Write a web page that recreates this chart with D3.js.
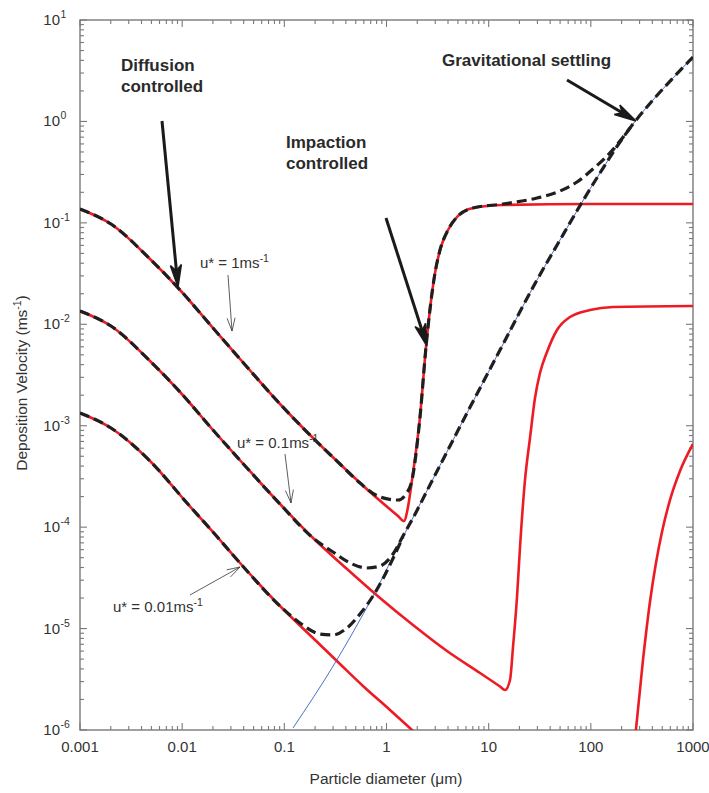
<!DOCTYPE html>
<html><head><meta charset="utf-8">
<script src="https://cdn.jsdelivr.net/npm/d3@7"></script>
<style>
body{margin:0;background:#fff}
svg{display:block}
text{font-family:"Liberation Sans",Arial,Helvetica,sans-serif;}
</style>
</head><body>
<svg id="c" width="709" height="793"></svg>
<script>
// ---- Data ----
const xTickLabels = ["0.001","0.01","0.1","1","10","100","1000"];
const xTickValues = [0.001,0.01,0.1,1,10,100,1000];
const yTickExps = ["1","0","-1","-2","-3","-4","-5","-6"];
const yTickValues = [10,1,0.1,0.01,0.001,1e-4,1e-5,1e-6];

// u* = 1 m/s : red solid and black dashed
const red1D = [0.001,0.00201,0.004843,0.009524,0.02003,0.04311,0.09071,0.1909,0.3507,0.6895,1.296,1.483,1.623,1.777,2.128,2.435,2.984,3.340,3.999,4.898,7.026,13.81,98.13,1000];
const red1V = [0.1370,0.09743,0.04402,0.02178,0.009192,0.003793,0.001637,0.0007566,0.0004194,0.0002220,0.0001288,0.0001150,0.0001579,0.0002916,0.001219,0.005972,0.03202,0.05399,0.08503,0.1142,0.1401,0.1500,0.1534,0.1534];
const dash1D = [0.001,0.00201,0.004843,0.009524,0.02003,0.04311,0.09071,0.1909,0.3507,0.5502,0.8637,1.296,1.552,1.777,2.128,2.435,2.984,3.340,3.999,4.898,7.026,13.81,29.72,49.91,73.21,105.0,143.9,193.0,258.6,406.1,637.2,1000];
const dash1V = [0.1370,0.09743,0.04402,0.02178,0.009192,0.003793,0.001637,0.0007566,0.0004194,0.0002724,0.0001982,0.0001851,0.0002121,0.0002916,0.001219,0.005972,0.03202,0.05399,0.08503,0.1142,0.1401,0.1534,0.1758,0.2061,0.2528,0.3396,0.4561,0.6412,0.9432,1.627,2.681,4.318];

// u* = 0.1 m/s
const red2D = [0.001,0.00201,0.004843,0.009524,0.02003,0.04311,0.09071,0.1909,0.4107,0.8637,1.817,3.910,8.227,12.91,14.45,16.18,17.31,18.94,20.27,22.68,25.38,28.41,31.79,37.24,46.65,62.54,98.13,164.8,1000];
const red2V = [0.01352,0.009618,0.004345,0.002150,0.0009073,0.0003829,0.0001691,7.816e-5,3.866e-5,2.002e-5,1.084e-5,6.007e-6,3.646e-6,2.685e-6,2.480e-6,3.112e-6,6.580e-6,2.048e-5,6.370e-5,0.0002916,0.0007566,0.001876,0.003309,0.005330,0.008785,0.01179,0.01383,0.01481,0.01515];
const dash2D = [0.001,0.00201,0.004843,0.009524,0.02003,0.04311,0.09071,0.1909,0.2995,0.4393,0.6443,0.8637,1.158,1.450,1.817,2.852,5.999,12.91,29.72,49.91,80.10,122.9,193.0,258.6];
const dash2V = [0.01352,0.009618,0.004345,0.002150,0.0009073,0.0003829,0.0001691,7.816e-5,5.687e-5,4.431e-5,3.955e-5,4.139e-5,5.434e-5,8.177e-5,0.0001231,0.0002982,0.001275,0.005578,0.02733,0.06776,0.1534,0.3101,0.6269,0.9432];

// u* = 0.01 m/s
const red3D = [0.001,0.00201,0.004843,0.01115,0.02003,0.03682,0.09071,0.1909,0.3507,0.5888,1.082,1.777,2.666];
const red3V = [0.001334,0.0009495,0.0004489,0.0001729,8.956e-5,4.431e-5,1.669e-5,8.072e-6,4.473e-6,2.716e-6,1.574e-6,1.0e-6,6.955e-7];
const dash3D = [0.001,0.00201,0.004843,0.01115,0.02003,0.03682,0.09071,0.1423,0.2234,0.2995,0.4107,0.5502,0.7378,1.450];
const dash3V = [0.001334,0.0009495,0.0004489,0.0001729,8.956e-5,4.431e-5,1.669e-5,1.135e-5,8.841e-6,8.642e-6,1.013e-5,1.392e-5,2.095e-5,7.995e-5];
const red4D = [264,324,379,434,497,595,746,1000];
const red4V = [6.35e-7,4.90e-6,1.83e-5,4.43e-5,8.95e-5,1.85e-4,3.58e-4,6.61e-4];

// gravitational settling (thin blue)
const gravD = [0.1216,0.3132,0.7378,1.450,2.852,5.999,12.91,29.72,49.91,80.10,122.9,193.0,258.6,406.1,637.2,1000];
const gravV = [1.046e-6,4.577e-6,2.095e-5,7.995e-5,0.0002982,0.001275,0.005578,0.02733,0.06776,0.1534,0.3101,0.6269,0.9432,1.627,2.681,4.318];

// ---- Layout ----
const L=80,R=693,T=20,B=730;
const x=d3.scaleLog().domain([0.001,1000]).range([L,R]);
const y=d3.scaleLog().domain([1e-6,10]).range([B,T]);
const svg=d3.select("#c");
const RED="#ed1c24", DASH="#1f1f1f", BLUE="#3b5cc4", AX="#7a7a7a", TXT="#333";

svg.append("defs").append("clipPath").attr("id","clip")
  .append("rect").attr("x",L).attr("y",T).attr("width",R-L).attr("height",B-T);

// ticks
const isMajor=t=>Math.abs(Math.log10(t)-Math.round(Math.log10(t)))<1e-9;
const tg=svg.append("g").attr("stroke",AX).attr("stroke-width",1.1);
x.ticks().forEach(t=>{
  const len=isMajor(t)?7:4, px=x(t);
  tg.append("line").attr("x1",px).attr("x2",px).attr("y1",B).attr("y2",B-len);
  tg.append("line").attr("x1",px).attr("x2",px).attr("y1",T).attr("y2",T+len);
});
y.ticks().forEach(t=>{
  const len=isMajor(t)?7:4, py=y(t);
  tg.append("line").attr("y1",py).attr("y2",py).attr("x1",L).attr("x2",L+len);
  tg.append("line").attr("y1",py).attr("y2",py).attr("x1",R).attr("x2",R-len);
});
svg.append("rect").attr("x",L).attr("y",T).attr("width",R-L).attr("height",B-T)
  .attr("fill","none").attr("stroke",AX).attr("stroke-width",1.4);

// tick labels
xTickValues.forEach((v,i)=>{
  svg.append("text").attr("x",x(v)).attr("y",752).attr("text-anchor","middle")
    .attr("font-size",15).attr("fill",TXT).text(xTickLabels[i]);
});
yTickValues.forEach((v,i)=>{
  const py=y(v);
  svg.append("text").attr("x",60).attr("y",py+5).attr("text-anchor","end")
    .attr("font-size",15).attr("fill",TXT).text("10");
  svg.append("text").attr("x",60.5).attr("y",py-2).attr("text-anchor","start")
    .attr("font-size",10.5).attr("fill",TXT).text(yTickExps[i]);
});

// axis titles
svg.append("text").attr("x",386).attr("y",784).attr("text-anchor","middle")
  .attr("font-size",15.5).attr("fill",TXT).text("Particle diameter (\u03bcm)");
const yt=svg.append("text").attr("transform","translate(27,383) rotate(-90)")
  .attr("text-anchor","middle").attr("font-size",15.5).attr("fill",TXT);
yt.append("tspan").text("Deposition Velocity (ms");
yt.append("tspan").attr("font-size",10.5).attr("dy",-6).text("-1");
yt.append("tspan").attr("dy",6).text(")");

// curves
const line=d3.line().x(d=>x(d[0])).y(d=>y(d[1])).curve(d3.curveMonotoneX);
const zip=(a,b)=>a.map((d,i)=>[d,b[i]]);
const plot=svg.append("g").attr("clip-path","url(#clip)");
[[red1D,red1V],[red2D,red2V],[red3D,red3V],[red4D,red4V]].forEach(([a,b])=>{
  plot.append("path").attr("d",line(zip(a,b))).attr("fill","none")
    .attr("stroke",RED).attr("stroke-width",2.6).attr("stroke-linejoin","round");
});
plot.append("path").attr("d",line(zip(gravD,gravV))).attr("fill","none")
  .attr("stroke",BLUE).attr("stroke-width",0.9);
[[dash1D,dash1V],[dash2D,dash2V],[dash3D,dash3V]].forEach(([a,b])=>{
  plot.append("path").attr("d",line(zip(a,b))).attr("fill","none")
    .attr("stroke",DASH).attr("stroke-width",3.2).attr("stroke-dasharray","10,5");
});

// annotations
function boldText(tx,ty,s){
  svg.append("text").attr("x",tx).attr("y",ty).attr("font-size",17)
    .attr("font-weight","bold").attr("fill","#2a2a2a").text(s);
}
boldText(121,71,"Diffusion");
boldText(121,92,"controlled");
boldText(286,148,"Impaction");
boldText(286,169,"controlled");
boldText(442,66,"Gravitational settling");

function thickArrow(x1,y1,x2,y2){
  const dx=x2-x1, dy=y2-y1, l=Math.hypot(dx,dy), ux=dx/l, uy=dy/l, nx=-uy, ny=ux;
  const hl=22, hw=5.5, notch=16;
  svg.append("line").attr("x1",x1).attr("y1",y1).attr("x2",x2-ux*notch).attr("y2",y2-uy*notch)
    .attr("stroke","#1a1a1a").attr("stroke-width",3);
  const bx=x2-ux*hl, by=y2-uy*hl;
  svg.append("path").attr("d",`M${x2},${y2}L${bx+nx*hw},${by+ny*hw}L${x2-ux*notch},${y2-uy*notch}L${bx-nx*hw},${by-ny*hw}Z`)
    .attr("fill","#1a1a1a").attr("stroke","#1a1a1a").attr("stroke-width",1.5).attr("stroke-linejoin","miter");
}
thickArrow(162,121,178,287);
thickArrow(386,218,427,346);
thickArrow(567,80,636,121);

function thinArrow(x1,y1,x2,y2){
  const dx=x2-x1, dy=y2-y1, l=Math.hypot(dx,dy), ux=dx/l, uy=dy/l, nx=-uy, ny=ux;
  const hl=13, hw=4;
  svg.append("line").attr("x1",x1).attr("y1",y1).attr("x2",x2).attr("y2",y2)
    .attr("stroke","#333").attr("stroke-width",0.8);
  const bx=x2-ux*hl, by=y2-uy*hl;
  svg.append("path").attr("d",`M${bx+nx*hw},${by+ny*hw}L${x2},${y2}L${bx-nx*hw},${by-ny*hw}`)
    .attr("fill","none").attr("stroke","#333").attr("stroke-width",0.8);
}
function uLabel(tx,ty,val){
  const t=svg.append("text").attr("x",tx).attr("y",ty).attr("font-size",15).attr("fill",TXT);
  t.append("tspan").text("u* = "+val+"ms");
  t.append("tspan").attr("font-size",10.5).attr("dy",-6).text("-1");
}
uLabel(200,268,"1");
thinArrow(228,275,232,331);
uLabel(237,448,"0.1");
thinArrow(285,454,291,503);
uLabel(113,612,"0.01");
thinArrow(190,595,240,567);
</script>
</body></html>
